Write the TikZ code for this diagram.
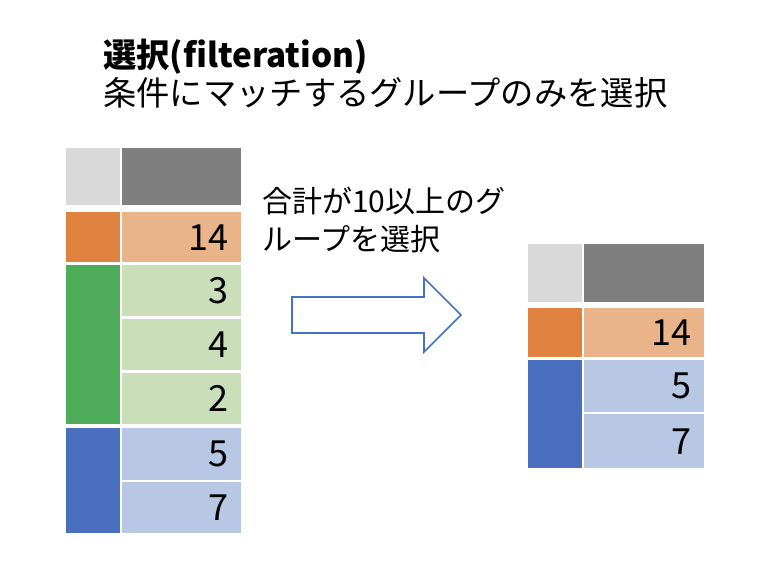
\documentclass[tikz,border=0pt]{standalone}
\usepackage{fontspec}
\usepackage{xcolor}
\usepackage{tikz}
\setmainfont{Noto Sans CJK JP}
\newfontfamily\jpfont{Noto Sans CJK JP}

\definecolor{hdrlight}{HTML}{D9D9D9}
\definecolor{hdrdark}{HTML}{7F7F7F}
\definecolor{grporange}{HTML}{E0823F}
\definecolor{valorange}{HTML}{EAB48A}
\definecolor{grpgreen}{HTML}{4EAC5B}
\definecolor{valgreen}{HTML}{CADFB9}
\definecolor{grpblue}{HTML}{4A6FBE}
\definecolor{valblue}{HTML}{B7C7E4}
\definecolor{arrowblue}{HTML}{4472C4}

\tikzset{
  cell/.style={rectangle, inner sep=0pt, anchor=north west},
  key/.style={cell, minimum width=54pt},
  val/.style={cell, text width=93pt, inner xsep=13pt, align=right,
    font=\jpfont\fontsize{36}{36}\selectfont},
}

\begin{document}
\begin{tikzpicture}[x=1pt, y=-1pt]
    \useasboundingbox[fill=white] (0,0) rectangle (758,568);

    % title
    \node[anchor=base west, inner sep=0pt, align=left,
          font=\jpfont\fontsize{33.3}{38}\selectfont] (title) at (103,105)
          {{\bfseries 選択(filteration)}\\条件にマッチするグループのみを選択};

    % table before selection
    \node[key, fill=hdrlight, minimum height=57pt] (lkeyh) at (66,148) {};
    \node[cell, fill=hdrdark, minimum width=119pt, minimum height=57pt] (lvalh) at (122,148) {};
    \node[key, fill=grporange, minimum height=50pt] (lkeya) at (66,212) {};
    \node[val, fill=valorange, minimum height=50pt] (lvala) at (122,212) {14};
    \node[key, fill=grpgreen, minimum height=159pt] (lkeyb) at (66,265) {};
    \node[val, fill=valgreen, minimum height=51pt] (lvalb1) at (122,265) {3};
    \node[val, fill=valgreen, minimum height=51pt] (lvalb2) at (122,319) {4};
    \node[val, fill=valgreen, minimum height=51pt] (lvalb3) at (122,373) {2};
    \node[key, fill=grpblue, minimum height=105pt] (lkeyc) at (66,428) {};
    \node[val, fill=valblue, minimum height=52pt] (lvalc1) at (122,428) {5};
    \node[val, fill=valblue, minimum height=51pt] (lvalc2) at (122,482) {7};

    % condition
    \node[anchor=base west, inner sep=0pt, align=left,
          font=\jpfont\fontsize{30}{38}\selectfont] (cond) at (262,250)
          {合計が10以上のグ\\ループを選択};

    % arrow
    \draw[arrowblue, line width=1.6pt, line join=miter]
        (292,297) -- (424,297) -- (424,278) -- (461,315)
        -- (424,352) -- (424,333) -- (292,333) -- cycle;

    % table after selection
    \node[key, fill=hdrlight, minimum height=58pt] (rkeyh) at (528,244) {};
    \node[cell, fill=hdrdark, minimum width=120pt, minimum height=58pt] (rvalh) at (584,244) {};
    \node[key, fill=grporange, minimum height=49pt] (rkeya) at (528,308) {};
    \node[val, fill=valorange, minimum height=49pt, text width=94pt] (rvala) at (584,308) {14};
    \node[key, fill=grpblue, minimum height=108pt] (rkeyc) at (528,360) {};
    \node[val, fill=valblue, minimum height=52pt, text width=94pt] (rvalc1) at (584,360) {5};
    \node[val, fill=valblue, minimum height=54pt, text width=94pt] (rvalc2) at (584,414) {7};
\end{tikzpicture}
\end{document}
